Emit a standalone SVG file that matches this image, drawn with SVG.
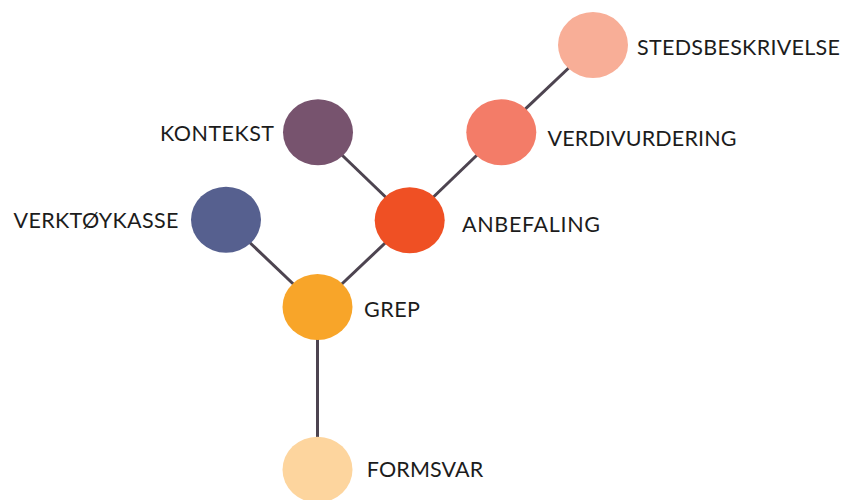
<svg xmlns="http://www.w3.org/2000/svg" width="846" height="500" viewBox="0 0 846 500">
<style>
.edge{stroke:#4d4450;stroke-width:3;fill:none}
.lbl{font-family:Lato,"Open Sans","Liberation Sans",sans-serif;font-size:21.5px;font-weight:400;fill:#1c1c1c}
</style>
<rect width="846" height="500" fill="#ffffff"/>
<g id="connectors">
<line class="edge" x1="593" y1="45" x2="501" y2="132"/>
<line class="edge" x1="501" y1="132" x2="409.5" y2="220"/>
<line class="edge" x1="318" y1="132" x2="409.5" y2="220"/>
<line class="edge" x1="409.5" y1="220" x2="317.5" y2="307"/>
<line class="edge" x1="226" y1="220" x2="317.5" y2="307"/>
<line class="edge" x1="317.5" y1="307" x2="317.5" y2="470"/>
</g>
<g id="stedsbeskrivelse">
<ellipse cx="593" cy="45" rx="35" ry="33" fill="#f8ae97"/>
<text class="lbl" x="637" y="55" textLength="203">STEDSBESKRIVELSE</text>
</g>
<g id="verdivurdering">
<ellipse cx="501.3" cy="132.3" rx="35" ry="33" fill="#f37c68"/>
<text class="lbl" x="547.5" y="145.7" textLength="189">VERDIVURDERING</text>
</g>
<g id="kontekst">
<ellipse cx="318" cy="132.3" rx="35" ry="33" fill="#77536e"/>
<text class="lbl" x="160" y="141" textLength="114">KONTEKST</text>
</g>
<g id="anbefaling">
<ellipse cx="409.7" cy="220.3" rx="35" ry="33" fill="#ef5024"/>
<text class="lbl" x="462" y="231.7" textLength="138">ANBEFALING</text>
</g>
<g id="verktoykasse">
<ellipse cx="226" cy="219.7" rx="35" ry="33" fill="#56608f"/>
<text class="lbl" x="13.5" y="228.3" textLength="165">VERKTØYKASSE</text>
</g>
<g id="grep">
<ellipse cx="317.5" cy="307" rx="35" ry="33" fill="#f8a529"/>
<text class="lbl" x="364" y="316.5" textLength="56">GREP</text>
</g>
<g id="formsvar">
<ellipse cx="317.5" cy="469.7" rx="35" ry="33" fill="#fdd59e"/>
<text class="lbl" x="366.7" y="477.3" textLength="116.6">FORMSVAR</text>
</g>
</svg>
